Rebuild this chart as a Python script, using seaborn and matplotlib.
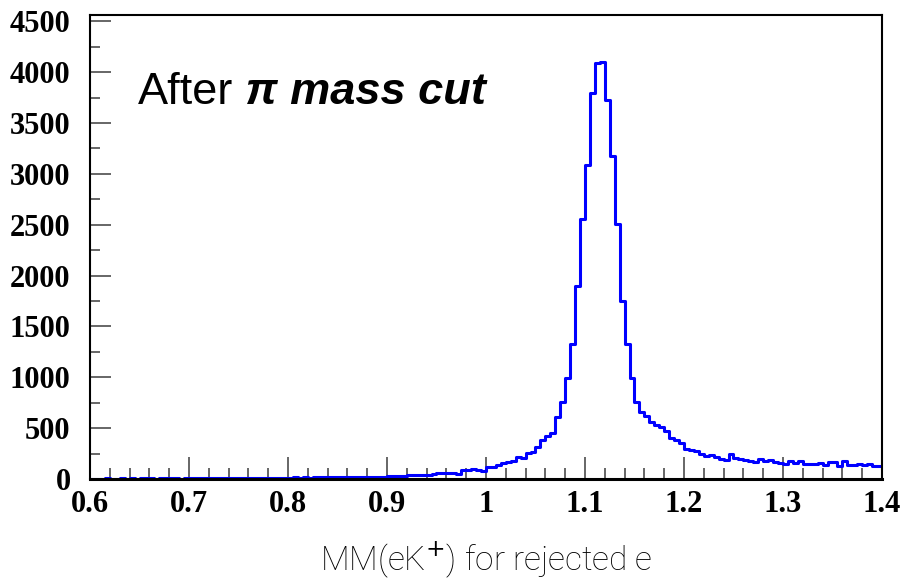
import numpy as np
import pandas as pd
import seaborn as sns
import matplotlib.pyplot as plt
from matplotlib.ticker import MultipleLocator

# histogram: 160 bins of 0.005 between 0.6 and 1.4
x_lo, x_hi, bin_w = 0.6, 1.4, 0.005

counts_06_07 = [3, 4, 2, 5, 3, 4, 6, 3, 5, 4, 7, 5, 8, 4, 6, 5, 7, 6, 4, 7]
counts_07_08 = [6, 8, 5, 7, 9, 6, 8, 7, 10, 8, 9, 11, 8, 10, 12, 9, 13, 10, 12, 14]
counts_08_09 = [13, 15, 12, 16, 14, 18, 15, 17, 16, 19, 18, 21, 17, 20, 22, 19, 21, 23, 20, 22]
counts_09_10 = [30, 33, 31, 34, 36, 40, 41, 43, 42, 45, 54, 57, 60, 62, 50, 86, 90, 102, 92, 75]
counts_peak = [120, 122, 137, 154, 170, 180, 219, 203, 252, 262,
               311, 382, 422, 454, 611, 758, 997, 1324, 1902, 2556,
               3085, 3791, 4090, 4095, 3725, 3176, 2507, 1748, 1330, 997]
counts_tail = [758, 660, 621, 562, 529, 507, 474, 399, 382, 350,
               294, 288, 275, 245, 229, 235, 212, 196, 186, 242,
               203, 193, 186, 176, 167, 193, 176, 186, 167, 157,
               150, 180, 157, 180, 150, 144, 150, 157, 137, 163,
               163, 127, 180, 137, 137, 144, 137, 144, 130, 130]

counts = np.array(counts_06_07 + counts_07_08 + counts_08_09 + counts_09_10
                  + counts_peak + counts_tail, dtype=float)
n_bins = len(counts)
edges = x_lo + bin_w * np.arange(n_bins + 1)
df = pd.DataFrame({'mm': edges[:-1] + bin_w / 2, 'n': counts})

sns.set_style('ticks')
plt.rcParams['font.family'] = ['Liberation Serif', 'DejaVu Serif']
plt.rcParams['text.color'] = 'black'
plt.rcParams['xtick.labelcolor'] = 'black'
plt.rcParams['ytick.labelcolor'] = 'black'

fig = plt.figure(figsize=(9.03, 5.82), dpi=100)
ax = fig.add_axes([0.0997, 0.177, 0.877, 0.797])

sns.histplot(data=df, x='mm', weights='n', bins=list(edges), element='step', fill=False,
             color='#0000ff', linewidth=2.2, ax=ax)

ax.set_xlim(x_lo, x_hi)
ax.set_ylim(0, 4560)
ax.xaxis.set_major_locator(MultipleLocator(0.1))
ax.xaxis.set_minor_locator(MultipleLocator(0.02))
ax.yaxis.set_major_locator(MultipleLocator(500))
ax.yaxis.set_minor_locator(MultipleLocator(250))
ax.xaxis.set_major_formatter(plt.FuncFormatter(lambda v, p: f'{v:g}'))

ax.tick_params(axis='both', which='both', direction='in', color='0.3', width=1.2,
               top=False, right=False, labelsize=22, labelcolor='black')
ax.tick_params(axis='x', which='major', length=16, pad=8)
ax.tick_params(axis='x', which='minor', length=8)
ax.tick_params(axis='y', which='major', length=15, pad=14)
ax.tick_params(axis='y', which='minor', length=7)
for lab in ax.get_xticklabels() + ax.get_yticklabels():
    lab.set_fontweight('bold')

for side in ['left', 'right', 'top']:
    ax.spines[side].set_linewidth(1.5)
    ax.spines[side].set_color('black')
ax.spines['bottom'].set_linewidth(2.2)
ax.spines['bottom'].set_color('black')

ax.set_ylabel('')
ax.set_xlabel('MM(eK$^{+}$) for rejected e', fontsize=24, family=['Roboto', 'DejaVu Sans'],
              fontweight='light', color='black', labelpad=15)

title_font = ['Liberation Sans', 'DejaVu Sans']
t1 = ax.text(0.06, 0.808, 'After', transform=ax.transAxes, fontsize=32.5,
             family=title_font, va='baseline', ha='left', color='black')
ax.annotate(' \u03c0 mass cut', xy=(1, 0), xycoords=t1, va='bottom', ha='left',
            fontsize=32.5, family=title_font, fontweight='bold', fontstyle='italic',
            color='black')

plt.savefig('out.png', dpi=100)
